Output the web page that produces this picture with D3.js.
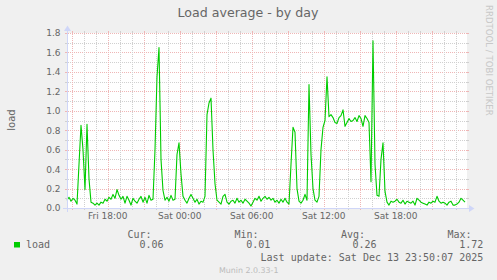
<!DOCTYPE html>
<html><head><meta charset="utf-8">
<script src="https://cdn.jsdelivr.net/npm/d3@7"></script>
<style>html,body{margin:0;padding:0;background:#F0F0F0;} svg{display:block;}</style>
</head><body><svg id="c" width="497" height="280"></svg>
<script>
const titleText = "Load average - by day";
const yAxisLabel = "load";
const seriesName = "load";
const startTime = Date.UTC(2025, 11, 12, 14, 36);
const endTime = Date.UTC(2025, 11, 13, 23, 56);
const stepSeconds = 600;
const loadValues = [
  0.08,0.11,0.07,0.10,0.08,0.04,0.45,0.85,0.60,0.19,
  0.86,0.30,0.06,0.05,0.03,0.05,0.03,0.06,0.05,0.09,
  0.07,0.11,0.09,0.14,0.10,0.19,0.13,0.09,0.12,0.05,
  0.12,0.08,0.03,0.10,0.07,0.05,0.09,0.12,0.06,0.11,
  0.05,0.13,0.08,0.09,0.60,1.35,1.65,0.50,0.18,0.08,
  0.11,0.07,0.13,0.08,0.09,0.55,0.67,0.35,0.12,0.08,
  0.05,0.10,0.14,0.10,0.06,0.09,0.04,0.07,0.06,0.12,
  0.96,1.08,1.13,0.60,0.25,0.08,0.06,0.04,0.12,0.14,
  0.06,0.04,0.07,0.08,0.05,0.10,0.06,0.08,0.05,0.09,
  0.07,0.05,0.02,0.06,0.10,0.08,0.12,0.07,0.10,0.12,
  0.09,0.11,0.08,0.10,0.06,0.08,0.05,0.09,0.06,0.10,
  0.06,0.04,0.45,0.83,0.78,0.20,0.07,0.05,0.08,0.14,
  0.08,1.27,0.55,0.20,0.08,0.06,0.12,0.60,0.83,0.90,
  1.35,0.94,0.96,0.93,0.88,0.87,0.93,0.95,1.01,0.84,
  0.88,0.92,0.89,0.90,0.93,0.89,0.95,0.92,0.84,0.95,
  0.92,0.88,0.27,1.72,0.45,0.13,0.12,0.50,0.67,0.17,
  0.06,0.03,0.07,0.06,0.07,0.09,0.06,0.05,0.08,0.04,
  0.07,0.06,0.05,0.07,0.03,0.10,0.08,0.06,0.05,0.04,
  0.03,0.06,0.05,0.07,0.06,0.12,0.07,0.05,0.06,0.05,
  0.03,0.06,0.07,0.03,0.03,0.04,0.06,0.10,0.08,0.06
];
const yDomain = [0, 1.8];
const yLabelTicks = [0, 0.2, 0.4, 0.6, 0.8, 1.0, 1.2, 1.4, 1.6, 1.8];
const xLabelTimes = [Date.UTC(2025,11,12,18), Date.UTC(2025,11,13,0), Date.UTC(2025,11,13,6), Date.UTC(2025,11,13,12), Date.UTC(2025,11,13,18)];
const xLabelTexts = ["Fri 18:00", "Sat 00:00", "Sat 06:00", "Sat 12:00", "Sat 18:00"];
const legendHeaders = ["Cur:", "Min:", "Avg:", "Max:"];
const legendValues = ["0.06", "0.01", "0.26", "1.72"];
const lastUpdateText = "Last update: Sat Dec 13 23:50:07 2025";
const watermarkText = "Munin 2.0.33-1";
const creditText = "RRDTOOL / TOBI OETIKER";

const X0 = 67, X1 = 467, Y0 = 208, Y1 = 33;
const svg = d3.select("#c");
const sans = "'DejaVu Sans', sans-serif", mono = "'DejaVu Sans Mono', monospace";
const fontCol = "#666666", gridCol = "#D0D0D0", mgridCol = "#EFB6B6", axisCol = "#CFD6F8";

svg.append("rect").attr("width", 497).attr("height", 280).attr("fill", "#F0F0F0");
svg.append("rect").attr("x", X0).attr("y", Y1).attr("width", X1 - X0).attr("height", Y0 - Y1).attr("fill", "#FFFFFF");

const x = d3.scaleUtc().domain([startTime, endTime]).range([X0, X1]);
const y = d3.scaleLinear().domain(yDomain).range([Y0, Y1]);
const px = v => Math.round(v) + 0.5;

const g = svg.append("g");
// horizontal grid
const majorY = new Set(yLabelTicks.map(v => v.toFixed(1)));
y.ticks(18).forEach(v => {
  const yy = px(y(v));
  const major = majorY.has(v.toFixed(1));
  const c = major ? mgridCol : gridCol;
  g.append("line").attr("x1", X0 - 2).attr("x2", X0).attr("y1", yy).attr("y2", yy).attr("stroke", c);
  g.append("line").attr("x1", X1).attr("x2", X1 + 2).attr("y1", yy).attr("y2", yy).attr("stroke", c);
  g.append("line").attr("x1", X0 - 1).attr("x2", X1 + 1).attr("y1", yy).attr("y2", yy)
    .attr("stroke", c).attr("stroke-dasharray", "1,1");
});
// vertical grid
x.ticks(d3.utcHour.every(1)).forEach(t => {
  const xx = px(x(t));
  const major = t.getUTCHours() % 3 === 0;
  const c = major ? mgridCol : gridCol;
  g.append("line").attr("x1", xx).attr("x2", xx).attr("y1", Y1 - 2).attr("y2", Y1).attr("stroke", c);
  g.append("line").attr("x1", xx).attr("x2", xx).attr("y1", Y0).attr("y2", Y0 + 2).attr("stroke", c);
  g.append("line").attr("x1", xx).attr("x2", xx).attr("y1", Y0 + 1).attr("y2", Y1 - 1)
    .attr("stroke", c).attr("stroke-dasharray", "1,1");
});

// data line
const pts = loadValues.map((v, i) => ({ t: startTime + i * stepSeconds * 1000, v }));
svg.append("path").datum(pts)
  .attr("d", d3.line().x(d => x(d.t)).y(d => y(d.v)))
  .attr("fill", "none").attr("stroke", "#00CC00").attr("stroke-width", 1.1).attr("stroke-linejoin", "round");

// axes
svg.append("line").attr("x1", X0 - 4).attr("x2", X1 + 4).attr("y1", Y0 + 0.5).attr("y2", Y0 + 0.5).attr("stroke", axisCol);
svg.append("line").attr("x1", X0 + 0.5).attr("x2", X0 + 0.5).attr("y1", Y0 + 4).attr("y2", Y1 - 4).attr("stroke", axisCol);
svg.append("path").attr("d", `M${X1 + 2},${Y0 - 3}L${X1 + 2},${Y0 + 4}L${X1 + 7.5},${Y0 + 0.5}Z`).attr("fill", axisCol);
svg.append("path").attr("d", `M${X0 - 3},${Y1 - 2}L${X0 + 4},${Y1 - 2}L${X0 + 0.5},${Y1 - 7.5}Z`).attr("fill", axisCol);

// y labels
svg.append("g").selectAll("text").data(yLabelTicks).join("text")
  .attr("x", 60.5).attr("y", d => y(d) + 3.4).attr("text-anchor", "end")
  .attr("font-family", sans).attr("font-size", 9).attr("fill", fontCol).text(d => d.toFixed(1));
// x labels
svg.append("g").selectAll("text").data(xLabelTimes).join("text")
  .attr("x", d => x(d)).attr("y", 219.3).attr("text-anchor", "middle")
  .attr("font-family", sans).attr("font-size", 9).attr("fill", fontCol).text((d, i) => xLabelTexts[i]);

// title
svg.append("text").attr("x", 248).attr("y", 17.2).attr("text-anchor", "middle")
  .attr("font-family", sans).attr("font-size", 12.6).attr("fill", fontCol).text(titleText);
// y-axis title
svg.append("text").attr("transform", "translate(15,120) rotate(-90)").attr("text-anchor", "middle")
  .attr("font-family", sans).attr("font-size", 10).attr("fill", fontCol).text(yAxisLabel);
// credit
svg.append("text").attr("transform", "translate(486,5) rotate(90)")
  .attr("font-family", sans).attr("font-size", 8.6).attr("fill", "#C8C8C8").text(creditText);

// legend
svg.append("rect").attr("x", 14).attr("y", 242).attr("width", 6).attr("height", 5.5).attr("fill", "#00CC00");
svg.append("text").attr("x", 26).attr("y", 248).attr("font-family", mono).attr("font-size", 10).attr("fill", fontCol).text(seriesName);
const headerX = [127.5, 234.5, 341, 447.5];
const valueX = [163.5, 270.3, 376.5, 483.3];
svg.append("g").selectAll("text").data(legendHeaders).join("text")
  .attr("x", (d, i) => headerX[i]).attr("y", 237.5)
  .attr("font-family", mono).attr("font-size", 10).attr("fill", fontCol).text(d => d);
svg.append("g").selectAll("text").data(legendValues).join("text")
  .attr("x", (d, i) => valueX[i]).attr("y", 248).attr("text-anchor", "end")
  .attr("font-family", mono).attr("font-size", 10).attr("fill", fontCol).text(d => d);
svg.append("text").attr("x", 483.3).attr("y", 260.6).attr("text-anchor", "end")
  .attr("font-family", mono).attr("font-size", 10).attr("fill", fontCol).text(lastUpdateText);
svg.append("text").attr("x", 248.7).attr("y", 272.6).attr("text-anchor", "middle")
  .attr("font-family", sans).attr("font-size", 7.9).attr("fill", "#BBBBBB").text(watermarkText);
</script></body></html>
